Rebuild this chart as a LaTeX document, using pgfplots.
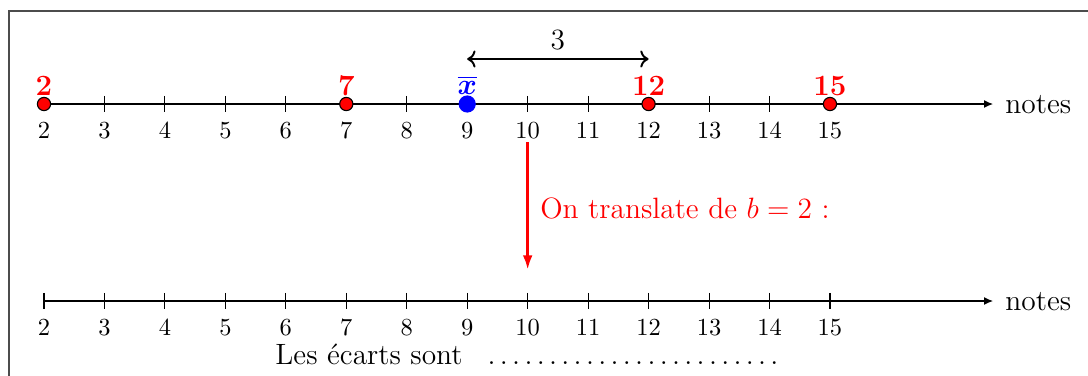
\documentclass[border=0pt]{standalone}
\usepackage{pgfplots}
\pgfplotsset{compat=1.18}
\usepackage{bm}
\usetikzlibrary{arrows.meta}
\begin{document}
\begin{tikzpicture}
\begin{axis}[
 scale only axis, width=444.08pt, height=153.06pt,
 xmin=1.27225, xmax=19.268, ymin=0, ymax=375, y dir=reverse,
 axis lines=none, clip=false,
]
% frame
\addplot[black!70, line width=0.45pt] coordinates {(1.4211,376) (1.4211,11) (19.3,11)};
% number lines
\addplot[black, line width=0.45pt, -{Latex[length=3.6pt,width=3.2pt]}] coordinates {(2,104) (17.696,104)};
\addplot[black, line width=0.45pt, -{Latex[length=3.6pt,width=3.2pt]}] coordinates {(2,301) (17.696,301)};
% ticks
\addplot[only marks, mark=|, mark size=3.27pt, black, mark options={line width=0.45pt}] coordinates {
 (3,104) (4,104) (5,104) (6,104) (8,104) (10,104) (11,104) (13,104) (14,104)};
\addplot[only marks, mark=|, mark size=3.27pt, black, mark options={line width=0.45pt}] coordinates {
 (2,301) (3,301) (4,301) (5,301) (6,301) (7,301) (8,301) (9,301) (10,301) (11,301) (12,301) (13,301) (14,301) (15,301)};
% tick labels
\pgfplotsinvokeforeach{2,...,15}{
 \node[anchor=base, inner sep=0pt] at (axis cs:#1,138) {#1};
 \node[anchor=base, inner sep=0pt] at (axis cs:#1,335) {#1};
}
% data points
\addplot[only marks, mark=*, mark size=2.7pt, mark options={fill=red, draw=black, line width=0.45pt}] coordinates {(2,104) (7,104) (12,104) (15,104)};
\addplot[only marks, mark=*, mark size=3.3pt, mark options={fill=blue, draw=blue}] coordinates {(9,104)};
% labels of points
\node[anchor=base, inner sep=0pt, red, font=\large\bfseries] at (axis cs:2,95) {2};
\node[anchor=base, inner sep=0pt, red, font=\large\bfseries] at (axis cs:7,95) {7};
\node[anchor=base, inner sep=0pt, red, font=\large\bfseries] at (axis cs:12,95) {12};
\node[anchor=base, inner sep=0pt, red, font=\large\bfseries] at (axis cs:15,95) {15};
\node[anchor=base, inner sep=0pt, blue, font=\large] at (axis cs:9,94) {$\overline{\bm{x}}$};
% gap arrow
\draw[{To[length=3.4pt,width=7pt]}-{To[length=3.4pt,width=7pt]}, line width=0.8pt] (axis cs:9,59) -- (axis cs:12,59);
\node[anchor=base, inner sep=0pt, font=\large] at (axis cs:10.5,49) {3};
% translation arrow
\draw[red, line width=1.2pt, -{Latex[length=6pt,width=4pt]}] (axis cs:10,142) -- (axis cs:10,270);
\node[anchor=base west, inner sep=0pt, red, font=\large] at (axis cs:10.2,218) {On translate de $b=2$ :};
% axis names
\node[anchor=base west, inner sep=0pt, font=\large] at (axis cs:17.895,113) {notes};
\node[anchor=base west, inner sep=0pt, font=\large] at (axis cs:17.895,310) {notes};
% bottom text
\node[anchor=base west, inner sep=0pt, font=\large] at (axis cs:5.8207,364) {Les écarts sont};
\node[anchor=base west, inner sep=0pt, font=\large] at (axis cs:9.294,364) {\makebox[120.5pt][l]{\leaders\hbox to 5.02pt{\hss.\hss}\hskip 120.5pt}};
\end{axis}
\pgfresetboundingbox
\path[use as bounding box] (current axis.south west) rectangle (current axis.north east);
\end{tikzpicture}
\end{document}
